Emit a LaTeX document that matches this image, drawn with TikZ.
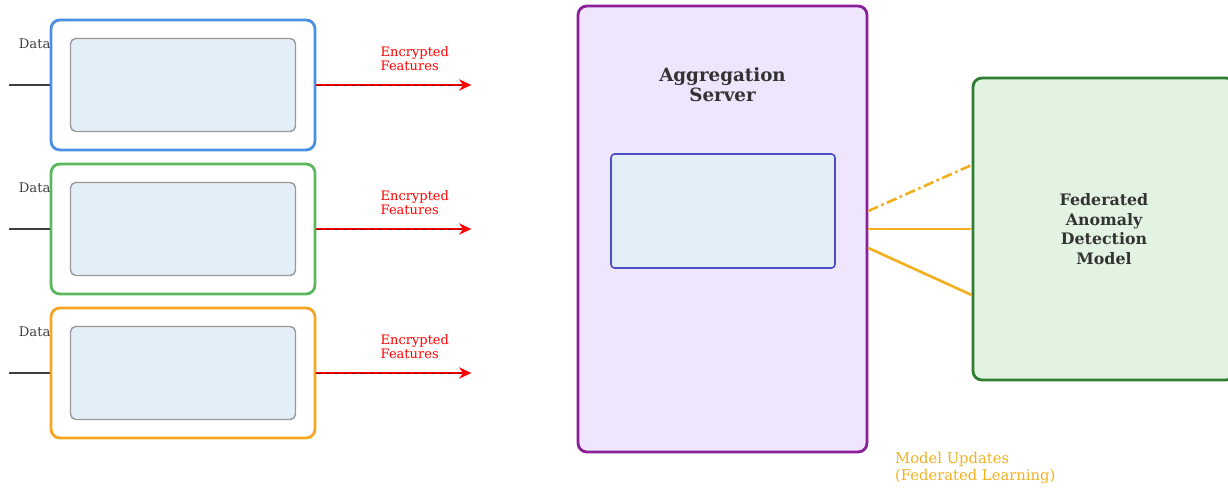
\documentclass[tikz,border=0pt]{standalone}
\usepackage{fontspec}
\setmainfont{DejaVu Serif}
\usetikzlibrary{arrows.meta,positioning}
\usepackage{xcolor}

\definecolor{clientblue}{HTML}{4A90E2}
\definecolor{clientgreen}{HTML}{5CB85C}
\definecolor{clientorange}{HTML}{F5A623}
\definecolor{innerfill}{HTML}{E4EEF9}
\definecolor{serverpurple}{HTML}{8B1E99}
\definecolor{serverfill}{HTML}{EFE5FC}
\definecolor{procblue}{HTML}{4B4FC4}
\definecolor{modelgreen}{HTML}{2E7D32}
\definecolor{modelfill}{HTML}{E3F3E1}
\definecolor{updorange}{HTML}{F2B01E}

\begin{document}
\begin{tikzpicture}[x=0.02cm, y=-0.02cm,
  client/.style={draw=#1, line width=1.6pt, rounded corners=5pt, fill=white,
                 minimum width=5.28cm, minimum height=2.6cm, inner sep=0pt},
  inner/.style={draw=gray!80, line width=0.8pt, rounded corners=3pt, fill=innerfill,
                minimum width=4.5cm, minimum height=1.86cm, inner sep=0pt},
  datalbl/.style={font=\fontsize{7.5}{8}\selectfont, text=black!75},
  enc/.style={red, line width=1.5pt, -{Stealth[length=7pt,width=6.5pt]},
              postaction={draw=red!60!black, -, line width=0.4pt, shorten >=6pt,
                          dash pattern=on 3pt off 2pt}},
  enclbl/.style={font=\fontsize{7.4}{8}\selectfont, text=red, align=left},
  upd/.style={updorange, line width=1.5pt},
]
  \useasboundingbox (0,0) rectangle (1228,489);

  % Clients
  \node[client=clientblue]   (c1) at (183, 85)  {};
  \node[client=clientgreen]  (c2) at (183, 229) {};
  \node[client=clientorange] (c3) at (183, 373) {};
  \foreach \i in {1,2,3} {
    \node[inner] (p\i) at (c\i.center) {};
    \coordinate (d\i) at ([xshift=-0.82cm]c\i.west);
    \coordinate (e\i) at ([xshift=3.1cm]c\i.east);
    \draw[line width=1.3pt, black!75] (d\i) -- (c\i.west);
    \node[datalbl] (dl\i) at ([xshift=-0.3cm, yshift=0.82cm]c\i.west) {Data};
    \draw[enc] (c\i.east) -- (e\i);
    \node[enclbl] (el\i) at ([xshift=1.97cm, yshift=0.52cm]c\i.east) {Encrypted\\Features};
  }

  % Aggregation server
  \node[draw=serverpurple, line width=1.6pt, rounded corners=5pt, fill=serverfill,
        minimum width=5.78cm, minimum height=8.92cm, inner sep=0pt] (server) at (722.5, 229) {};
  \node[font=\fontsize{10.4}{11.5}\selectfont\bfseries, text=black!80, align=center]
    (stitle) at (722.5, 85) {Aggregation\\Server};
  \node[draw=procblue, line width=0.9pt, rounded corners=2pt, fill=innerfill,
        minimum width=4.48cm, minimum height=2.28cm, inner sep=0pt] (agg) at (723, 211) {};

  % Global model
  \node[draw=modelgreen, line width=1.6pt, rounded corners=5pt, fill=modelfill,
        minimum width=5.24cm, minimum height=6.04cm, inner sep=0pt,
        font=\fontsize{9}{11.2}\selectfont\bfseries, text=black!80, align=center]
    (model) at (1104, 229) {Federated\\Anomaly\\Detection\\Model};

  % Model updates
  \draw[upd, dash pattern=on 6pt off 2pt on 1.5pt off 2pt]
    ([yshift=0.36cm]server.east) -- ([yshift=1.28cm]model.west);
  \draw[upd] (server.east) -- (model.west);
  \draw[upd] ([yshift=-0.38cm]server.east) -- ([yshift=-1.32cm]model.west);

  \node[font=\fontsize{8.4}{10.2}\selectfont, text=updorange, align=left, anchor=west]
    (updlbl) at (889, 468) {Model Updates\\(Federated Learning)};
\end{tikzpicture}
\end{document}
